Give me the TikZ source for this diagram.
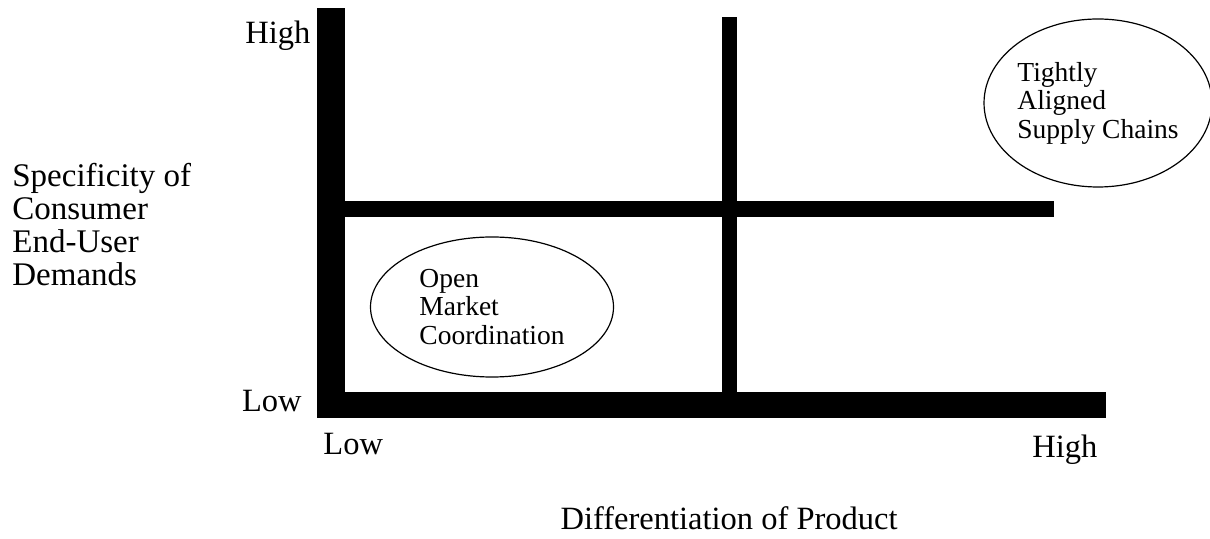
\documentclass[tikz,border=0pt]{standalone}
\usepackage{fontspec}
\setmainfont{Liberation Serif}
\usetikzlibrary{positioning, shapes.geometric}

\tikzset{
	bar/.style = {fill = black},
	zone/.style = {draw, ellipse, line width = 0.6pt, align = left, inner sep = 0pt, font = \fontsize{13.75}{14.25}\selectfont},
	axislabel/.style = {inner sep = 0pt, font = \fontsize{16.25}{16.5}\selectfont},
}

\begin{document}
\begin{tikzpicture}[x = 0.5pt, y = -0.5pt]

		\useasboundingbox (0, 0) rectangle (1210, 539);

		% grid bars
		\begin{scope}

			% axes
			\fill[bar] (317, 8) rectangle (345, 418);
			\fill[bar] (320, 392) rectangle (1106, 418);

			% dividers
			\fill[bar] (722, 17) rectangle (737, 395);
			\fill[bar] (345, 201) rectangle (1054, 217);

		\end{scope}

		% quadrant ellipses
		\node[zone, minimum width = 121.5pt, minimum height = 70pt] (open) at (492, 307) {Open\\Market\\Coordination};
		\node[zone, minimum width = 110pt, minimum height = 84pt] (tight) at (1098, 103) {Tightly\\Aligned\\Supply Chains};

		% axis ticks
		\node[axislabel, anchor = base west] (yhigh) at (245, 44) {High};
		\node[axislabel, anchor = base east] (ylow) at (302, 412) {Low};
		\node[axislabel, anchor = base west] (xlow) at (323, 455) {Low};
		\node[axislabel, anchor = base west] (xhigh) at (1032, 458) {High};

		% axis titles
		\node[axislabel, anchor = base west, align = left, font = \fontsize{16.5}{16.5}\selectfont] (ytitle) at (12, 286) {Specificity of\\Consumer\\End-User\\Demands};
		\node[axislabel, anchor = base east] (xtitle) at (898, 530) {Differentiation of Product};

\end{tikzpicture}
\end{document}
